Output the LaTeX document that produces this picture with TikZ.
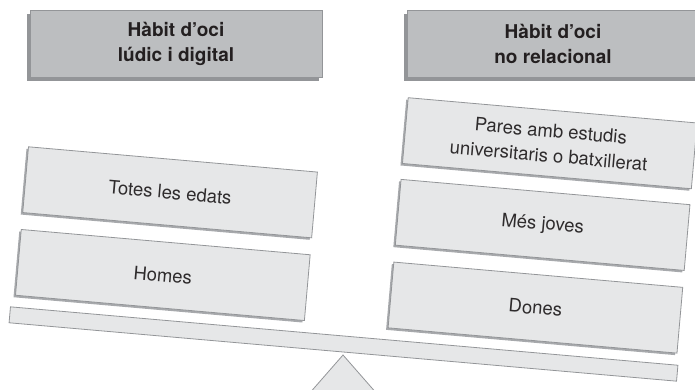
\documentclass[tikz,border=0pt]{standalone}
\usepackage{fontspec}
\setmainfont{TeX Gyre Heros}
\usetikzlibrary{shadows}
\definecolor{hdrfill}{HTML}{BCBEC0}
\definecolor{boxfill}{HTML}{E6E7E8}
\definecolor{edgecol}{HTML}{939598}
\definecolor{shadecol}{HTML}{A7A9AC}
\definecolor{ink}{HTML}{231F20}
\definecolor{lightink}{HTML}{2E2B2C}
\begin{document}
\begin{tikzpicture}[x=1bp,y=1bp,
  hdr/.style={draw=edgecol, fill=hdrfill, line width=0.8bp,
    minimum width=292bp, minimum height=67bp, inner sep=0pt, align=center,
    font=\fontsize{19bp}{25bp}\selectfont\bfseries, text=ink,
    drop shadow={shadow xshift=-3bp, shadow yshift=-3bp, fill=edgecol, opacity=1}},
  item/.style={draw=edgecol, fill=boxfill, line width=0.8bp,
    minimum width=290bp, minimum height=66bp, inner sep=0pt, align=center,
    font=\fontsize{18.5bp}{25bp}\selectfont, text=lightink, transform shape,
    drop shadow={shadow xshift=-2bp, shadow yshift=-2bp, fill=shadecol, opacity=1}},
  beamstyle/.style={draw=edgecol, fill=boxfill, line width=0.8bp,
    minimum width=670bp, minimum height=16bp, inner sep=0pt, transform shape}]
\path[use as bounding box, clip] (0,0) rectangle (695,389);

% headers
\node[hdr] (h1) at (176,344.8) {Hàbit d’oci\\lúdic i digital};
\node[hdr] (h2) at (553,344.8) {Hàbit d’oci\\no relacional};

% fulcrum
\coordinate (apex) at (343,34);
\draw[draw=edgecol, fill=boxfill, line width=0.8bp] (apex) -- ++(-42,-48) -- ++(84,0) -- cycle;

% tilted balance
\begin{scope}[shift={(343.5,45)}, rotate=-5]
  \node[beamstyle] (beam) at (0,0) {};
  \node[item] (homes) at (-186,53) {Homes};
  \node[item] (totes) at (-186,136) {Totes les edats};
  \node[item] (dones) at (188,53) {Dones};
  \node[item] (mes) at (188,136) {Més joves};
  \node[item] (pares) at (188,218) {Pares amb estudis\\universitaris o batxillerat};
\end{scope}
\end{tikzpicture}
\end{document}
